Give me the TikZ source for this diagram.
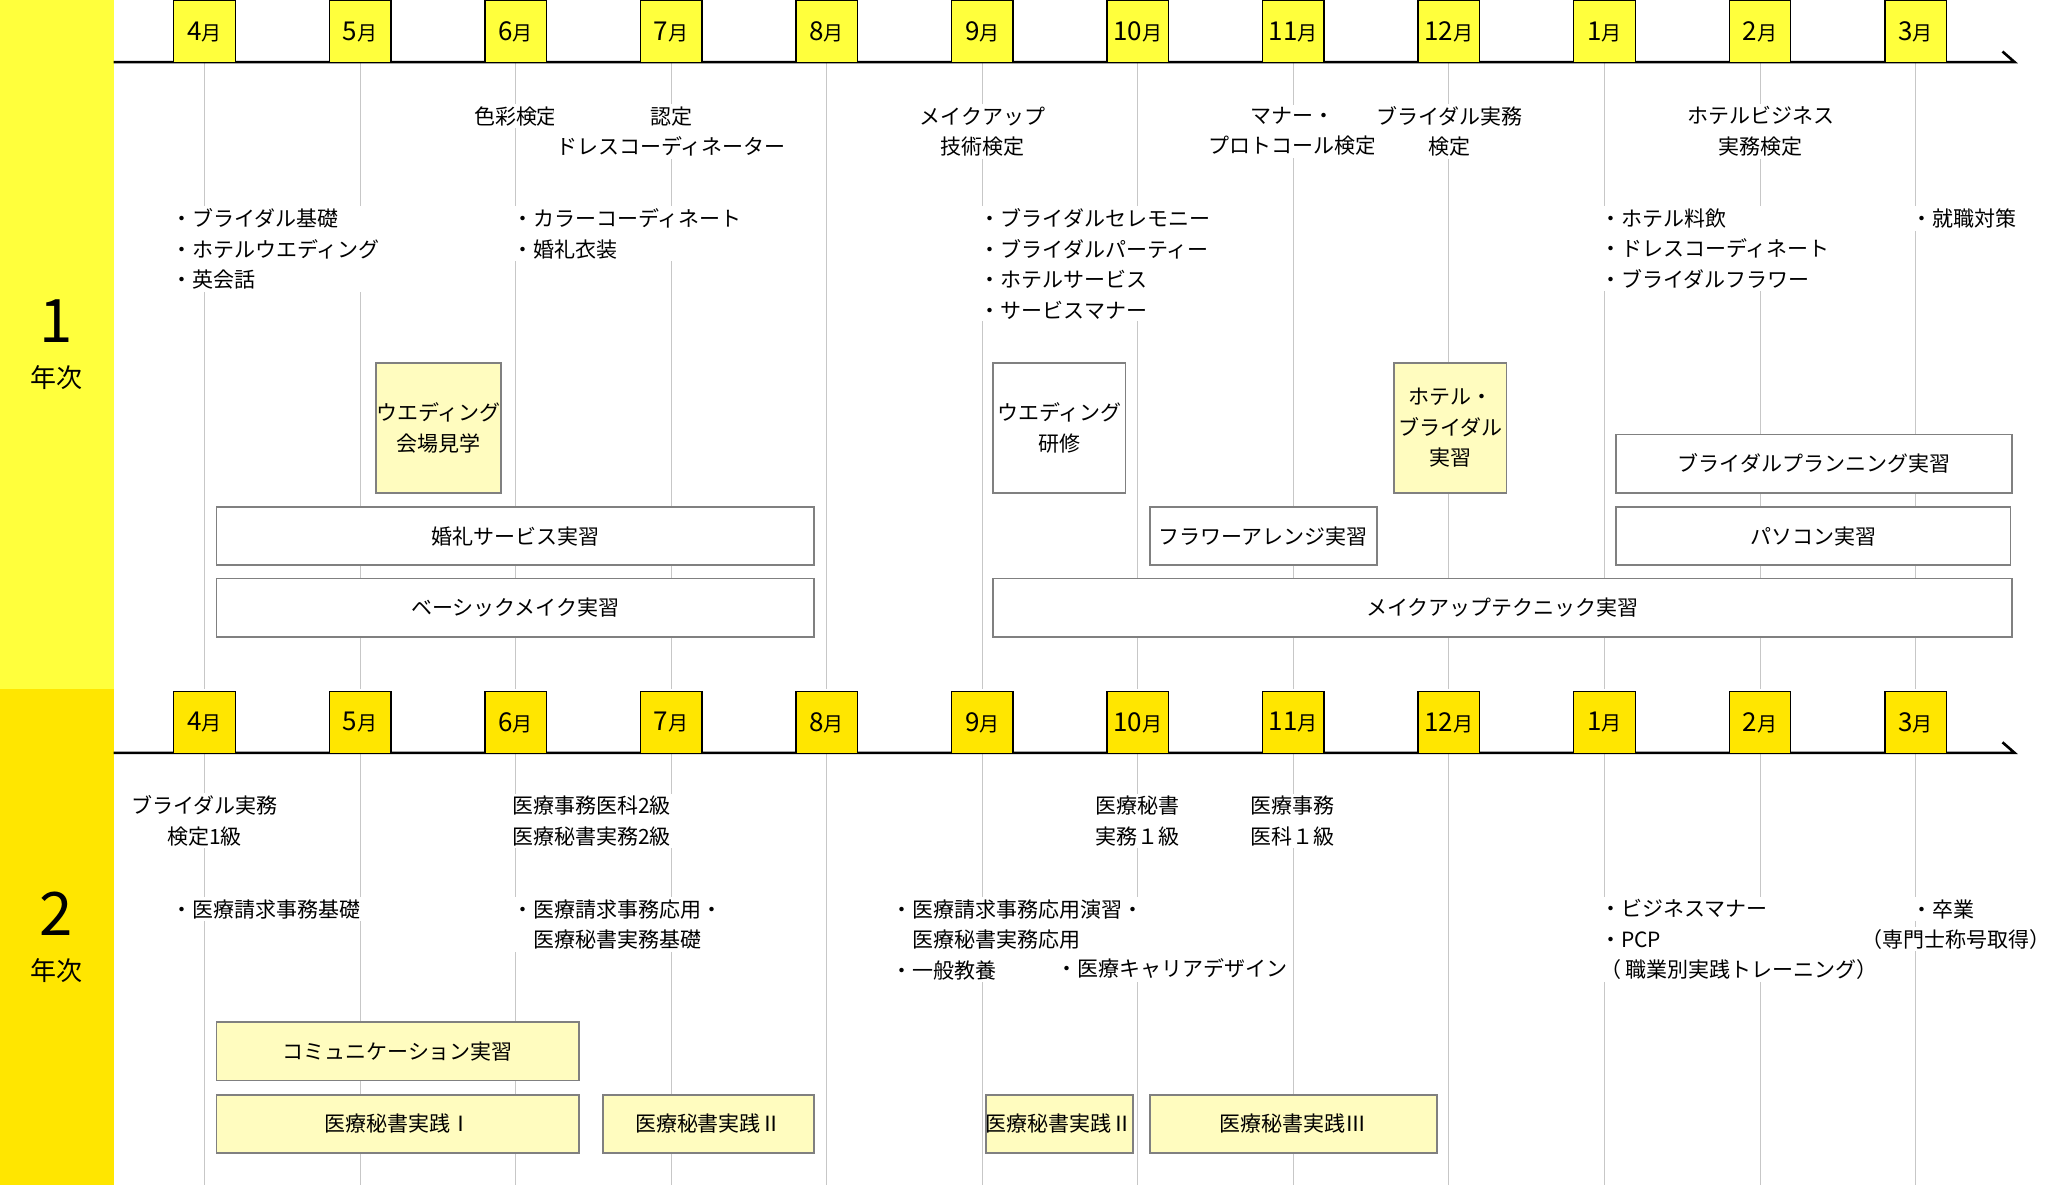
\documentclass[tikz,border=0pt]{standalone}
\usepackage{fontspec}
\setmainfont{Noto Sans CJK JP}
\begin{document}
\begin{tikzpicture}[x=0.6685pt,y=-0.6605pt,
  lbl/.style={fill=white,inner sep=1.2pt,align=center,font=\fontsize{10.5}{15.2}\selectfont},
  lbll/.style={lbl,anchor=west,align=left},
  wbox/.style={draw=black!50,line width=0.9pt,fill=white,align=center,font=\fontsize{10.5}{15.2}\selectfont,inner sep=0pt},
  ybox/.style={wbox,fill=yellow!25},
  mon/.style={draw=black,line width=0.7pt,minimum width=46*0.6685pt,minimum height=47*0.6605pt,inner sep=0pt,anchor=north,font=\fontsize{13}{13}\selectfont},
  grid/.style={draw=black!22,line width=0.5pt}]
\definecolor{yA}{HTML}{FFFF3C}
\definecolor{yB}{HTML}{FFE600}
\useasboundingbox (0,0) rectangle (1550,897);
\fill[yA] (0,0) rectangle (85,522);
\fill[yB] (0,522) rectangle (85,897);
\node (y1n) at (42,243) {\fontsize{30}{30}\selectfont 1};
\node (y1t) at (42,286) {\fontsize{13}{13}\selectfont 年次};
\node (y2n) at (42,692) {\fontsize{30}{30}\selectfont 2};
\node (y2t) at (42,735) {\fontsize{13}{13}\selectfont 年次};
% grid lines
\foreach \i in {0,...,11}{
  \draw[grid] (153+116.36*\i,47) -- (153+116.36*\i,522);
  \draw[grid] (153+116.36*\i,570) -- (153+116.36*\i,897);
}
% timelines
\coordinate (t1s) at (85,47); \coordinate (t1e) at (1507,47); \coordinate (t1k) at (1498,39);
\coordinate (t2s) at (85,570); \coordinate (t2e) at (1507,570); \coordinate (t2k) at (1498,562);
\draw[line width=1.3pt] (t1s) -- (t1e) -- (t1k);
\draw[line width=1.3pt] (t2s) -- (t2e) -- (t2k);
\foreach \m [count=\i from 0] in {4,5,6,7,8,9,10,11,12,1,2,3}{
  \node[mon,fill=yA] (a\i) at (153+116.36*\i,0) {\m\fontsize{10}{10}\selectfont 月};
  \node[mon,fill=yB] (b\i) at (153+116.36*\i,523) {\m\fontsize{10}{10}\selectfont 月};
}
% year 1 labels
\node[lbl] (q1) at (386,88) {色彩検定};
\node[lbl] (q2) at (502,99.5) {認定\\ドレスコーディネーター};
\node[lbl] (q3) at (735,99.5) {メイクアップ\\技術検定};
\node[lbl] (q4) at (967,99.5) {マナー・\\プロトコール検定};
\node[lbl] (q5) at (1084,99.5) {ブライダル実務\\検定};
\node[lbl] (q6) at (1317,99.5) {ホテルビジネス\\実務検定};
\node[lbll,anchor=north west] (s1) at (126,156) {・ブライダル基礎\\・ホテルウエディング\\・英会話};
\node[lbll,anchor=north west] (s2) at (381,156) {・カラーコーディネート\\・婚礼衣装};
\node[lbll,anchor=north west] (s3) at (731,156) {・ブライダルセレモニー\\・ブライダルパーティー\\・ホテルサービス\\・サービスマナー};
\node[lbll,anchor=north west] (s4) at (1195,156) {・ホテル料飲\\・ドレスコーディネート\\・ブライダルフラワー};
\node[lbll,anchor=north west] (s5) at (1428,156) {・就職対策};
% year 1 boxes
\node[ybox,minimum width=84*0.6685pt,minimum height=98*0.6605pt] (c1) at (328,324) {ウエディング\\会場見学};
\node[wbox,minimum width=99*0.6685pt,minimum height=98*0.6605pt] (c2) at (792.5,324) {ウエディング\\研修};
\node[ybox,minimum width=84*0.6685pt,minimum height=98*0.6605pt] (c3) at (1085,324) {ホテル・\\ブライダル\\実習};
\node[wbox,minimum width=296*0.6685pt,minimum height=44*0.6605pt] (c4) at (1357,351) {ブライダルプランニング実習};
\node[wbox,minimum width=447*0.6685pt,minimum height=44*0.6605pt] (c5) at (385.5,406) {婚礼サービス実習};
\node[wbox,minimum width=170*0.6685pt,minimum height=44*0.6605pt] (c6) at (945,406) {フラワーアレンジ実習};
\node[wbox,minimum width=295*0.6685pt,minimum height=44*0.6605pt] (c7) at (1356.5,406) {パソコン実習};
\node[wbox,minimum width=447*0.6685pt,minimum height=44*0.6605pt] (c8) at (385.5,460) {ベーシックメイク実習};
\node[wbox,minimum width=762*0.6685pt,minimum height=44*0.6605pt] (c9) at (1124,460) {メイクアップテクニック実習};
% year 2 labels
\node[lbl] (r1) at (153,621.5) {ブライダル実務\\検定1級};
\node[lbll] (r2) at (381,621.5) {医療事務医科2級\\医療秘書実務2級};
\node[lbl] (r3) at (851,621.5) {医療秘書\\実務１級};
\node[lbl] (r4) at (967,621.5) {医療事務\\医科１級};
\node[lbll,anchor=north west] (u1) at (126,679) {・医療請求事務基礎};
\node[lbll,anchor=north west] (u2) at (381,679) {・医療請求事務応用・\\\hphantom{・}医療秘書実務基礎};
\node[lbll,anchor=north west] (u3) at (665,679) {・医療請求事務応用演習・\\\hphantom{・}医療秘書実務応用\\・一般教養};
\node[lbll] (u4) at (788,733) {・医療キャリアデザイン};
\node[lbll,anchor=north west] (u5) at (1195,679) {・ビジネスマナー\\・PCP\\（ 職業別実践トレーニング）};
\node[lbll,anchor=north west] (u6) at (1428,679) {・卒業};
\node[lbl] (u7) at (1463,711) {（専門士称号取得）};
% year 2 boxes
\node[ybox,minimum width=271*0.6685pt,minimum height=44*0.6605pt] (d1) at (297.5,796) {コミュニケーション実習};
\node[ybox,minimum width=271*0.6685pt,minimum height=44*0.6605pt] (d2) at (297.5,851) {医療秘書実践Ⅰ};
\node[ybox,minimum width=158*0.6685pt,minimum height=44*0.6605pt] (d3) at (530,851) {医療秘書実践Ⅱ};
\node[ybox,minimum width=99*0.6685pt,minimum height=44*0.6605pt] (d4) at (792.5,851) {医療秘書実践Ⅱ};
\node[ybox,minimum width=215*0.6685pt,minimum height=44*0.6605pt] (d5) at (967.5,851) {医療秘書実践Ⅲ};
\end{tikzpicture}
\end{document}
